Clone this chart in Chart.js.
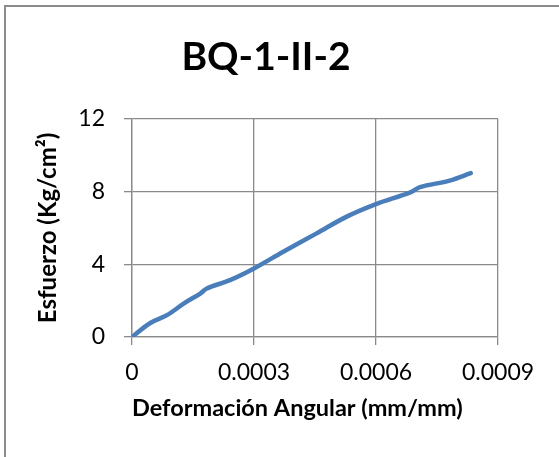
<!DOCTYPE html>
<html>
<head>
<meta charset="utf-8">
<script src="https://cdn.jsdelivr.net/npm/chart.js@4"></script>
<style>
  html, body { margin: 0; padding: 0; background: #fff; }
  #wrap { position: relative; width: 559px; height: 457px; overflow: hidden; }
  #frame { position: absolute; left: 4px; top: 5px; width: 600px; height: 500px;
           border-left: 2px solid #8c8c8c; border-top: 2px solid #8c8c8c; pointer-events: none; }
  canvas { position: absolute; left: 0; top: 0; }
</style>
</head>
<body>
<div id="wrap">
  <canvas id="c" width="559" height="457"></canvas>
  <div id="frame"></div>
</div>
<script>
const chartTitle = 'BQ-1-II-2';
const xAxisTitle = 'Deformación Angular (mm/mm)';
const yAxisTitle = 'Esfuerzo (Kg/cm²)';

const strainValues = [0, 0.000045, 0.000086, 0.000127, 0.000168, 0.000184, 0.000241, 0.000300, 0.000372, 0.000454, 0.000528, 0.000600, 0.000683, 0.000708, 0.000781, 0.000833];
const stressValues = [0, 0.77, 1.20, 1.84, 2.39, 2.67, 3.13, 3.77, 4.69, 5.70, 6.62, 7.31, 7.94, 8.24, 8.60, 9.01];

const xTicks = [0, 0.0003, 0.0006, 0.0009];
const yTicks = [0, 4, 8, 12];

const points = strainValues.map((x, i) => ({ x: x, y: stressValues[i] }));
const gridColor = '#8a8a8a';
const fontFamily = 'Lato, "Open Sans", sans-serif';

new Chart(document.getElementById('c'), {
  type: 'scatter',
  data: {
    datasets: [{
      data: points,
      showLine: true,
      borderColor: '#4a7ebb',
      backgroundColor: '#4a7ebb',
      borderWidth: 4.5,
      pointRadius: 0,
      tension: 0.35,
      borderCapStyle: 'round',
      borderJoinStyle: 'round'
    }]
  },
  options: {
    responsive: false,
    animation: false,
    devicePixelRatio: 1,
    layout: { padding: { left: 0, right: 27, top: 0, bottom: 0 } },
    plugins: {
      legend: { display: false },
      tooltip: { enabled: false },
      title: {
        display: true,
        text: chartTitle,
        color: '#000',
        font: { family: fontFamily, size: 39, weight: 'bold', lineHeight: 1.2 },
        padding: { top: 34, bottom: 38 }
      }
    },
    scales: {
      x: {
        type: 'linear',
        min: xTicks[0],
        max: xTicks[xTicks.length - 1],
        afterBuildTicks: (s) => { s.ticks = xTicks.map(v => ({ value: v })); },
        afterFit: (s) => { s.height = 120; },
        border: { color: gridColor, width: 1.3 },
        grid: { color: gridColor, lineWidth: 1.3, tickLength: 8, tickColor: gridColor },
        ticks: {
          color: '#000',
          padding: 14,
          font: { family: fontFamily, size: 23 },
          maxRotation: 0,
          callback: (v) => v === 0 ? '0' : Number(v).toFixed(4)
        },
        title: {
          display: true,
          text: xAxisTitle,
          align: 'start',
          color: '#000',
          font: { family: fontFamily, size: 23.5, weight: 'bold', lineHeight: 1.2 },
          padding: { top: 0, bottom: 34 }
        }
      },
      y: {
        type: 'linear',
        min: yTicks[0],
        max: yTicks[yTicks.length - 1],
        afterBuildTicks: (s) => { s.ticks = yTicks.map(v => ({ value: v })); },
        afterFit: (s) => { s.width = 132; },
        border: { color: gridColor, width: 1.3 },
        grid: { color: gridColor, lineWidth: 1.3, tickLength: 8, tickColor: gridColor },
        ticks: {
          color: '#000',
          padding: 19,
          font: { family: fontFamily, size: 23 }
        },
        title: {
          display: true,
          text: yAxisTitle,
          color: '#000',
          font: { family: fontFamily, size: 24, weight: 'bold', lineHeight: 1.2 },
          padding: { top: 34, bottom: 0 }
        }
      },
      spacer: {
        type: 'linear',
        position: 'right',
        display: true,
        afterFit: (s) => { s.width = 34; },
        border: { display: false },
        grid: { display: false, drawTicks: false },
        ticks: { display: false },
        title: { display: false }
      }
    }
  }
});
</script>
</body>
</html>
